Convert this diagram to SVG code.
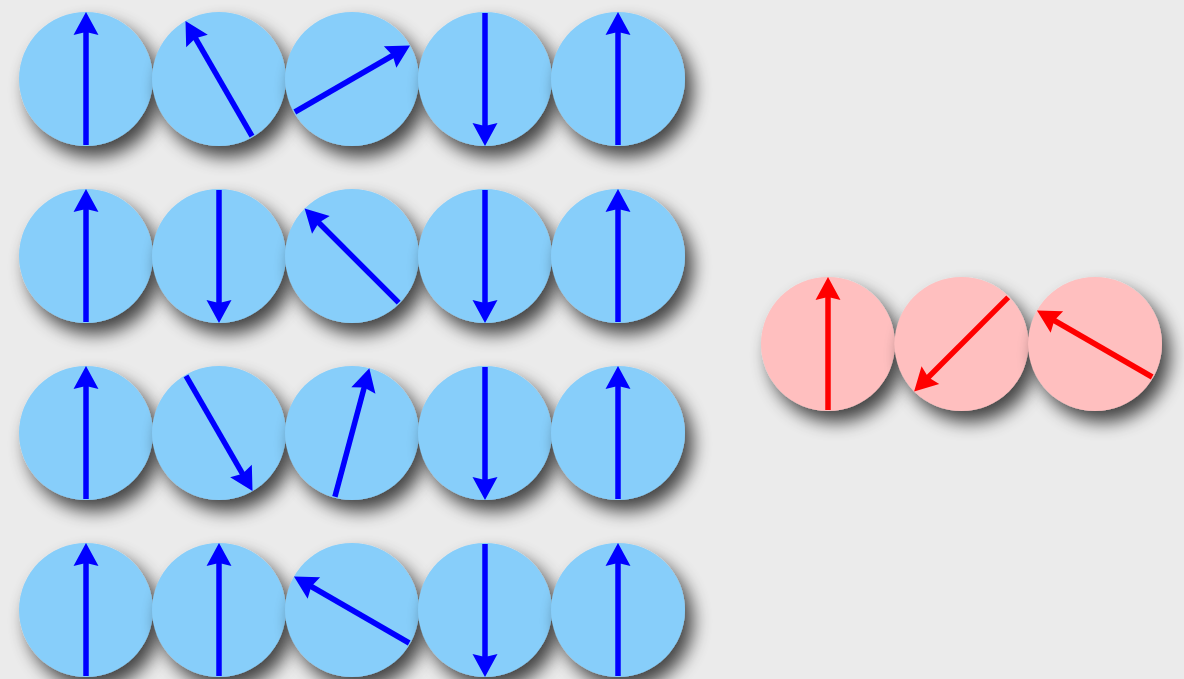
<svg xmlns="http://www.w3.org/2000/svg" xmlns:xlink="http://www.w3.org/1999/xlink" width="1184" height="679" viewBox="0 0 1184 679">
  <style>
    .disc { filter: url(#shadow); }
    .blue .disc { fill: #87cefa; }
    .red .disc { fill: #ffbfbf; }
    .blue { color: #0000ff; }
    .red { color: #ff0000; }
  </style>
  <defs>
    <filter id="shadow" x="-50%" y="-50%" width="210%" height="210%">
      <feGaussianBlur in="SourceAlpha" stdDeviation="9"/>
      <feOffset dx="8" dy="11"/>
      <feComponentTransfer>
        <feFuncA type="linear" slope="0.72"/>
      </feComponentTransfer>
      <feMerge>
        <feMergeNode/>
        <feMergeNode in="SourceGraphic"/>
      </feMerge>
    </filter>
    <!-- spin arrow pointing up, drawn through the disc centre -->
    <g id="spin">
      <line x1="0" y1="66" x2="0" y2="-48" stroke="currentColor" stroke-width="5.5"/>
      <polygon points="0,-67 12.5,-44 0,-47 -12.5,-44" fill="currentColor"/>
    </g>
  </defs>

  <rect width="1184" height="679" fill="#ebebeb"/>

  <!-- row 1 -->
  <g id="r1c1" class="blue" transform="translate(86,79)"><circle class="disc" r="67"/><use href="#spin" transform="rotate(0)"/></g>
  <g id="r1c2" class="blue" transform="translate(219,79)"><circle class="disc" r="67"/><use href="#spin" transform="rotate(-30)"/></g>
  <g id="r1c3" class="blue" transform="translate(352,79)"><circle class="disc" r="67"/><use href="#spin" transform="rotate(60)"/></g>
  <g id="r1c4" class="blue" transform="translate(485,79)"><circle class="disc" r="67"/><use href="#spin" transform="rotate(180)"/></g>
  <g id="r1c5" class="blue" transform="translate(618,79)"><circle class="disc" r="67"/><use href="#spin" transform="rotate(0)"/></g>

  <!-- row 2 -->
  <g id="r2c1" class="blue" transform="translate(86,256)"><circle class="disc" r="67"/><use href="#spin" transform="rotate(0)"/></g>
  <g id="r2c2" class="blue" transform="translate(219,256)"><circle class="disc" r="67"/><use href="#spin" transform="rotate(180)"/></g>
  <g id="r2c3" class="blue" transform="translate(352,256)"><circle class="disc" r="67"/><use href="#spin" transform="rotate(-45)"/></g>
  <g id="r2c4" class="blue" transform="translate(485,256)"><circle class="disc" r="67"/><use href="#spin" transform="rotate(180)"/></g>
  <g id="r2c5" class="blue" transform="translate(618,256)"><circle class="disc" r="67"/><use href="#spin" transform="rotate(0)"/></g>

  <!-- row 3 -->
  <g id="r3c1" class="blue" transform="translate(86,433)"><circle class="disc" r="67"/><use href="#spin" transform="rotate(0)"/></g>
  <g id="r3c2" class="blue" transform="translate(219,433)"><circle class="disc" r="67"/><use href="#spin" transform="rotate(150)"/></g>
  <g id="r3c3" class="blue" transform="translate(352,433)"><circle class="disc" r="67"/><use href="#spin" transform="rotate(15)"/></g>
  <g id="r3c4" class="blue" transform="translate(485,433)"><circle class="disc" r="67"/><use href="#spin" transform="rotate(180)"/></g>
  <g id="r3c5" class="blue" transform="translate(618,433)"><circle class="disc" r="67"/><use href="#spin" transform="rotate(0)"/></g>

  <!-- row 4 -->
  <g id="r4c1" class="blue" transform="translate(86,610)"><circle class="disc" r="67"/><use href="#spin" transform="rotate(0)"/></g>
  <g id="r4c2" class="blue" transform="translate(219,610)"><circle class="disc" r="67"/><use href="#spin" transform="rotate(0)"/></g>
  <g id="r4c3" class="blue" transform="translate(352,610)"><circle class="disc" r="67"/><use href="#spin" transform="rotate(-60)"/></g>
  <g id="r4c4" class="blue" transform="translate(485,610)"><circle class="disc" r="67"/><use href="#spin" transform="rotate(180)"/></g>
  <g id="r4c5" class="blue" transform="translate(618,610)"><circle class="disc" r="67"/><use href="#spin" transform="rotate(0)"/></g>

  <!-- red row -->
  <g id="p1" class="red" transform="translate(828,344)"><circle class="disc" r="67"/><use href="#spin" transform="rotate(0)"/></g>
  <g id="p2" class="red" transform="translate(961.5,344)"><circle class="disc" r="67"/><use href="#spin" transform="rotate(-135)"/></g>
  <g id="p3" class="red" transform="translate(1095,344)"><circle class="disc" r="67"/><use href="#spin" transform="rotate(-60)"/></g>

  <g id="connectors"/>
</svg>
